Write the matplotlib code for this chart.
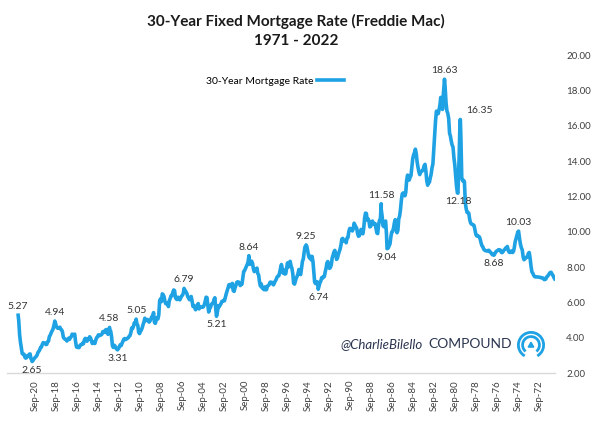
import matplotlib
matplotlib.use('Agg')
import matplotlib.pyplot as plt
import pandas as pd
from matplotlib.patches import Arc, Polygon

# ---- data (Freddie Mac 30-year fixed, monthly readings, Apr-1971 .. Apr-2022) ----
rates_1970s = [7.33, 7.42, 7.53, 7.60, 7.70, 7.69, 7.63, 7.55, 7.48,
               7.44, 7.32, 7.29, 7.29, 7.37, 7.37, 7.40, 7.40, 7.42, 7.43, 7.43, 7.44,
               7.44, 7.44, 7.46, 7.54, 7.65, 7.73, 8.05, 8.50, 8.82, 8.77, 8.58, 8.54,
               8.54, 8.46, 8.41, 8.58, 8.97, 9.09, 9.28, 9.59, 9.96, 9.98, 9.79, 9.62,
               9.43, 9.10, 8.89, 8.82, 8.91, 8.89, 8.82, 8.84, 8.95, 9.16, 9.10, 9.07,
               8.99, 8.94, 8.86, 8.81, 8.84, 8.96, 8.97, 8.98, 8.93, 8.91, 8.86, 8.78,
               8.72, 8.70, 8.69, 8.75, 8.83, 8.86, 8.94, 8.94, 8.90, 8.92, 8.92, 8.96,
               9.01, 9.15, 9.20, 9.36, 9.57, 9.71, 9.74, 9.78, 9.76, 9.86, 10.11, 10.35,
               10.39, 10.41, 10.43, 10.50, 10.69, 11.04, 11.09, 11.09, 11.30, 11.64, 12.83, 12.90]
rates_1980s = [12.88, 13.04, 15.28, 16.32, 14.26, 12.71, 12.19, 12.56, 13.20, 13.79, 14.21, 14.79,
               14.90, 15.13, 15.40, 15.58, 16.40, 16.70, 16.83, 17.29, 18.16, 18.45, 17.83, 16.92,
               17.40, 17.60, 17.16, 16.89, 16.68, 16.70, 16.82, 16.27, 15.43, 14.61, 13.83, 13.62,
               13.25, 13.04, 12.80, 12.78, 12.63, 12.87, 13.42, 13.81, 13.73, 13.54, 13.44, 13.42,
               13.37, 13.23, 13.39, 13.65, 13.94, 14.42, 14.67, 14.47, 14.35, 14.13, 13.64, 13.18,
               13.08, 12.92, 13.17, 13.20, 12.91, 12.22, 12.03, 12.19, 12.19, 12.14, 11.78, 11.26,
               10.88, 10.71, 10.08, 9.94, 10.14, 10.68, 10.51, 10.20, 10.01, 9.98, 9.70, 9.31,
               9.20, 9.08, 9.04, 9.83, 10.60, 10.54, 10.28, 10.33, 10.89, 11.26, 10.65, 10.64,
               10.38, 9.89, 9.93, 10.20, 10.46, 10.46, 10.43, 10.60, 10.48, 10.30, 10.27, 10.61,
               10.73, 10.65, 11.03, 11.05, 10.77, 10.20, 9.88, 9.99, 10.13, 9.95, 9.77, 9.74]
rates_1990s = [9.90, 10.20, 10.27, 10.37, 10.48, 10.16, 10.04, 10.10, 10.18, 10.18, 10.01, 9.67,
               9.64, 9.37, 9.50, 9.49, 9.47, 9.62, 9.58, 9.24, 9.01, 8.86, 8.71, 8.50,
               8.43, 8.76, 8.94, 8.85, 8.67, 8.51, 8.13, 7.98, 7.92, 8.09, 8.31, 8.22,
               7.92, 7.71, 7.46, 7.46, 7.37, 7.40, 7.21, 7.11, 6.91, 6.83, 7.16, 7.17,
               7.06, 7.15, 7.68, 8.32, 8.60, 8.40, 8.61, 8.51, 8.64, 8.93, 9.17, 9.20,
               9.15, 8.83, 8.46, 8.32, 7.96, 7.57, 7.61, 7.86, 7.64, 7.48, 7.38, 7.20,
               7.03, 7.08, 7.62, 7.93, 8.07, 8.32, 8.25, 8.00, 8.23, 7.92, 7.62, 7.60,
               7.82, 7.65, 7.90, 8.14, 7.94, 7.69, 7.50, 7.48, 7.43, 7.29, 7.21, 7.10,
               6.99, 7.04, 7.13, 7.14, 7.14, 7.00, 6.95, 6.92, 6.72, 6.71, 6.87, 6.72,
               6.79, 6.81, 7.04, 6.92, 7.15, 7.55, 7.63, 7.94, 7.82, 7.85, 7.74, 7.91]
rates_2000s = [8.21, 8.33, 8.24, 8.15, 8.52, 8.29, 8.15, 8.03, 7.91, 7.80, 7.75, 7.38,
               7.03, 7.05, 6.95, 7.08, 7.15, 7.16, 7.13, 6.95, 6.82, 6.62, 6.66, 7.07,
               7.00, 6.89, 7.01, 6.99, 6.81, 6.65, 6.49, 6.29, 6.09, 6.11, 6.07, 6.05,
               5.92, 5.84, 5.75, 5.81, 5.48, 5.23, 5.63, 6.26, 6.15, 5.95, 5.93, 5.88,
               5.71, 5.64, 5.45, 5.83, 6.27, 6.29, 6.06, 5.87, 5.75, 5.72, 5.73, 5.75,
               5.71, 5.63, 5.93, 5.86, 5.72, 5.58, 5.70, 5.82, 5.77, 6.07, 6.33, 6.27,
               6.15, 6.25, 6.32, 6.51, 6.60, 6.68, 6.76, 6.52, 6.40, 6.36, 6.24, 6.14,
               6.22, 6.29, 6.16, 6.18, 6.26, 6.66, 6.70, 6.57, 6.38, 6.38, 6.21, 6.10,
               5.76, 5.92, 5.97, 5.92, 6.04, 6.32, 6.43, 6.48, 6.04, 6.20, 6.09, 5.29,
               5.06, 5.13, 5.00, 4.81, 4.86, 5.42, 5.22, 5.19, 5.06, 4.95, 4.88, 4.93]
rates_2010s = [5.03, 4.99, 4.97, 5.10, 4.89, 4.74, 4.56, 4.43, 4.35, 4.23, 4.30, 4.71,
               4.76, 4.95, 4.84, 4.84, 4.64, 4.51, 4.55, 4.27, 4.11, 4.07, 3.99, 3.96,
               3.92, 3.89, 3.95, 3.91, 3.80, 3.68, 3.55, 3.60, 3.50, 3.38, 3.35, 3.35,
               3.41, 3.53, 3.57, 3.45, 3.54, 4.07, 4.37, 4.46, 4.49, 4.19, 4.26, 4.46,
               4.43, 4.30, 4.34, 4.34, 4.19, 4.16, 4.13, 4.12, 4.16, 4.04, 4.00, 3.86,
               3.67, 3.71, 3.77, 3.67, 3.84, 3.98, 4.05, 3.91, 3.89, 3.80, 3.94, 3.96,
               3.87, 3.66, 3.69, 3.61, 3.60, 3.57, 3.44, 3.44, 3.46, 3.47, 3.77, 4.20,
               4.15, 4.17, 4.20, 4.05, 4.01, 3.90, 3.97, 3.88, 3.81, 3.90, 3.92, 3.95,
               4.03, 4.33, 4.44, 4.47, 4.59, 4.57, 4.53, 4.55, 4.63, 4.83, 4.87, 4.64,
               4.46, 4.37, 4.27, 4.14, 4.07, 3.80, 3.77, 3.62, 3.61, 3.69, 3.70, 3.72]
rates_2020s = [3.62, 3.47, 3.45, 3.31, 3.23, 3.16, 3.02, 2.94, 2.89, 2.83, 2.77, 2.68,
               2.74, 2.81, 3.08, 3.06, 2.96, 2.98, 2.87, 2.84, 2.90, 3.07, 3.07, 3.10,
               3.45, 3.76, 4.17, 4.98]

# weekly highs / lows that are labelled on the chart
label_dates = ['2022-05-05', '2021-01-07', '2018-11-08', '2013-08-22', '2012-11-21',
               '2011-02-10', '2006-07-20', '2003-06-19', '2000-05-19', '1994-12-09',
               '1993-10-15', '1987-10-16', '1987-03-27', '1981-10-09', '1980-04-04',
               '1980-06-27', '1977-01-14', '1974-09-20']
label_values = [5.27, 2.65, 4.94, 4.58, 3.31, 5.05, 6.79, 5.21, 8.64, 9.25,
                6.74, 11.58, 9.04, 18.63, 16.35, 12.18, 8.68, 10.03]
label_side = ['up', 'down', 'up', 'up', 'down', 'up', 'up', 'down', 'up', 'up',
              'down', 'up', 'down', 'up', 'right', 'down', 'down', 'up']

tick_years = list(range(1972, 2021, 2))
tick_labels = ['Sep-%02d' % (y % 100) for y in tick_years]

y_ticks = [2, 4, 6, 8, 10, 12, 14, 16, 18, 20]

# ---- build the series ----
monthly_vals = rates_1970s + rates_1980s + rates_1990s + rates_2000s + rates_2010s + rates_2020s
monthly_dates = pd.date_range('1971-04-01', periods=len(monthly_vals), freq='MS') + pd.Timedelta(days=14)
s = pd.Series(monthly_vals, index=monthly_dates)
s = pd.concat([s, pd.Series(label_values, index=pd.to_datetime(label_dates))]).sort_index()


def frac_year(d):
    d = pd.DatetimeIndex(d)
    return d.year + (d.dayofyear - 1) / 365.25


x = frac_year(s.index)
y = s.values

# ---- figure ----
plt.rcParams['font.family'] = ['Lato', 'DejaVu Sans']
fig = plt.figure(figsize=(6.0, 4.23), dpi=100)
ax = fig.add_axes([7 / 600, 50 / 423, 548 / 600, 318 / 423])

line_color = '#1FA2E4'
ax.plot(x, y, color=line_color, lw=2.6, solid_joinstyle='round', label='30-Year Mortgage Rate')

ax.set_xlim(2023.4, 1971.25)
ax.set_ylim(2, 20)

ax.set_xticks([y_ + 8.5 / 12 for y_ in tick_years])
ax.set_xticklabels(tick_labels, rotation=90, fontsize=7, color='#404040')
ax.set_yticks(y_ticks)
ax.set_yticklabels(['%.2f' % v for v in y_ticks], fontsize=7, color='#404040')
ax.yaxis.tick_right()
ax.tick_params(axis='both', length=0)
ax.tick_params(axis='y', pad=8)
ax.tick_params(axis='x', pad=5)
for sp in ['top', 'left', 'right']:
    ax.spines[sp].set_visible(False)
ax.spines['bottom'].set_color('#d9d9d9')
ax.spines['bottom'].set_linewidth(1.0)

# labels
ldx = frac_year(pd.to_datetime(label_dates))
for xx, v, side in zip(ldx, label_values, label_side):
    if side == 'up':
        off, va, ha = (0, 3), 'bottom', 'center'
    elif side == 'down':
        off, va, ha = (0, -3), 'top', 'center'
    else:
        off, va, ha = (4, 3), 'bottom', 'left'
    ax.annotate('%.2f' % v, (xx, v), xytext=off, textcoords='offset points',
                ha=ha, va=va, fontsize=7.5, color='#333333')

# legend
fig.legend(loc='center', bbox_to_anchor=(275 / 600, 1 - 81 / 423), bbox_transform=fig.transFigure,
           frameon=False, markerfirst=False, fontsize=7.5, handlelength=2.6, handletextpad=0.3)

# title
fig.text(296 / 600, 1 - 21 / 423, '30-Year Fixed Mortgage Rate (Freddie Mac)', ha='center', va='center',
         fontsize=11, fontweight='bold', color='#1a1a1a')
fig.text(296 / 600, 1 - 41 / 423, '1971 - 2022', ha='center', va='center',
         fontsize=11, fontweight='bold', color='#1a1a1a')

# branding
fig.text(423 / 600, 1 - 344 / 423, '@CharlieBilello', ha='right', va='center', fontsize=9.5,
         fontstyle='italic', color='#2b3550')
fig.text(428 / 600, 1 - 344 / 423, 'COMPOUND', ha='left', va='center', fontsize=10,
         color='#2b3550')
lax = fig.add_axes([517 / 600, 1 - 359 / 423, 28 / 600, 28 / 423])
lax.set_xlim(-1, 1)
lax.set_ylim(-1, 1)
lax.set_aspect('equal')
lax.axis('off')
lax.add_patch(Arc((0, 0), 1.8, 1.8, theta1=-60, theta2=240, color=line_color, lw=2))
lax.add_patch(Arc((0, 0), 1.2, 1.2, theta1=-50, theta2=230, color=line_color, lw=2))
lax.add_patch(Polygon([[-0.2, -0.15], [0.2, -0.15], [0, 0.2]], closed=True, color=line_color))

fig.savefig('out.png', dpi=100)
